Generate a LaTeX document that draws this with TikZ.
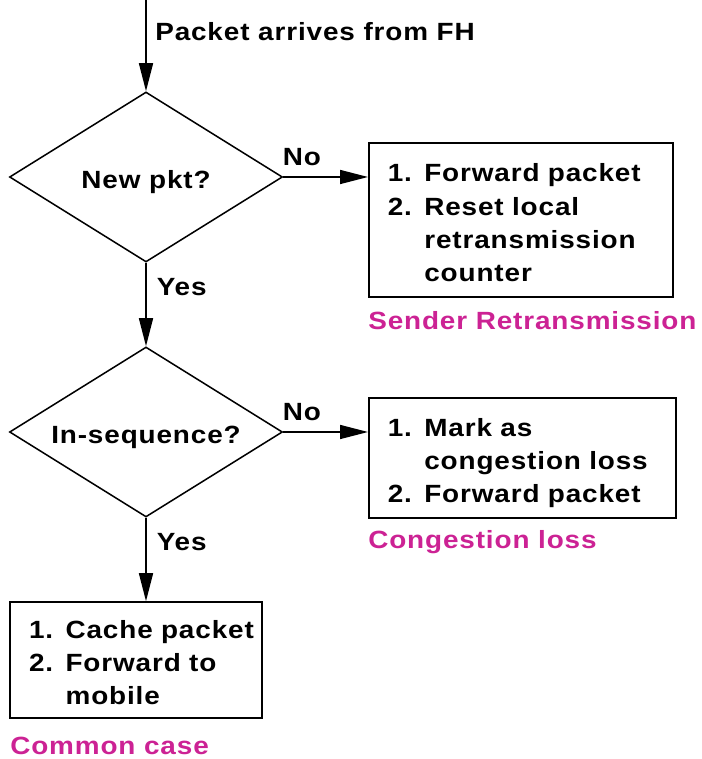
\documentclass[tikz,border=0pt]{standalone}
\usepackage{fontspec}
\setmainfont[FakeStretch=1.12, LetterSpace=3.5]{Liberation Sans}
\usetikzlibrary{shapes.geometric, arrows.meta}
\definecolor{casepink}{RGB}{204,34,148}
\newcommand{\lowtext}[1]{\raisebox{-0.05in}[\height][\depth]{#1}}

\begin{document}
\begin{tikzpicture}[x=1in,y=1in,
  font=\fontsize{18pt}{24pt}\selectfont\bfseries,
  decision/.style={diamond, draw=black, line width=1.1pt, shape aspect=1.6, inner sep=0pt, minimum width=2.73in, minimum height=1.70in},
  stepbox/.style={rectangle, draw=black, line width=1.1pt, inner xsep=0.19in, inner ysep=0pt, align=left},
  casename/.style={anchor=west, inner sep=0pt, text=casepink},
  answer/.style={inner sep=0pt},
  flow/.style={-{Triangle[length=0.28in,width=0.14in]}, line width=1.1pt}]
\useasboundingbox (0,0) rectangle (7.02,7.59);
\coordinate (start) at (1.46,7.59);
\node[anchor=west, inner sep=0pt] (arrives) at (1.55,7.27) {Packet arrives from FH};
\node[decision] (newpkt) at (1.46,5.82) {\lowtext{New pkt?}};
\node[decision] (inseq) at (1.46,3.27) {\lowtext{In-sequence?}};
\node[stepbox, anchor=west, text width=2.66in, minimum height=1.54in] (sender) at (3.68,5.39)
  {\lowtext{\begin{tabular}{@{}l@{ }l@{}}1. & Forward packet\\ 2. & Reset local\\ & retransmission\\ & counter\end{tabular}}};
\node[stepbox, anchor=west, text width=2.69in, minimum height=1.20in] (congest) at (3.68,3.01)
  {\lowtext{\begin{tabular}{@{}l@{ }l@{}}1. & Mark as\\ & congestion loss\\ 2. & Forward packet\end{tabular}}};
\node[stepbox, text width=2.14in, minimum height=1.16in] (common) at (1.36,0.99)
  {\lowtext{\begin{tabular}{@{}l@{ }l@{}}1. & Cache packet\\ 2. & Forward to\\ & mobile\end{tabular}}};
\node[casename] (sendername) at (3.68,4.38) {Sender Retransmission};
\node[casename] (congestname) at (3.68,2.17) {Congestion loss};
\node[casename] (commonname) at (0.10,0.13) {Common case};
% connectors
\draw[flow] (start) -- (newpkt.north);
\draw[flow] (newpkt.east) -- (newpkt.east -| sender.west) node[answer, pos=0.22, above=0.1in] (no1) {No};
\draw[flow] (newpkt.south) -- (inseq.north) node[answer, pos=0.29, right=0.1in] (yes1) {Yes};
\draw[flow] (inseq.east) -- (inseq.east -| congest.west) node[answer, pos=0.22, above=0.1in] (no2) {No};
\draw[flow] (inseq.south) -- (inseq.south |- common.north) node[answer, pos=0.29, right=0.1in] (yes2) {Yes};
\end{tikzpicture}
\end{document}
